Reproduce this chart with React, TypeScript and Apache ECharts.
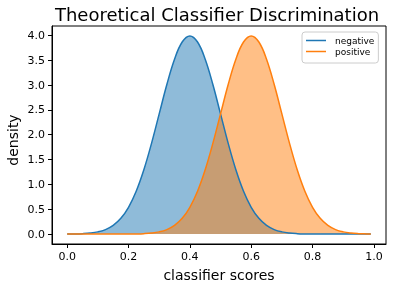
import React, { useEffect, useRef } from "react";
import * as echarts from "echarts";

const scores = [0, 0.025, 0.05, 0.075, 0.1, 0.125, 0.15, 0.175, 0.2, 0.225, 0.25, 0.275, 0.3, 0.325, 0.35, 0.375, 0.4, 0.425, 0.45, 0.475, 0.5, 0.525, 0.55, 0.575, 0.6, 0.625, 0.65, 0.675, 0.7, 0.725, 0.75, 0.775, 0.8, 0.825, 0.85, 0.875, 0.9, 0.925, 0.95, 0.975, 0.99];
const negative = [0.00134, 0.00353, 0.00873, 0.02029, 0.04432, 0.09094, 0.17528, 0.3174, 0.53991, 0.86277, 1.29518, 1.82649, 2.41971, 3.01137, 3.52065, 3.86668, 3.98942, 3.86668, 3.52065, 3.01137, 2.41971, 1.82649, 1.29518, 0.86277, 0.53991, 0.3174, 0.17528, 0.09094, 0.04432, 0.02029, 0.00873, 0.00353, 0.00134, 0.00048, 0.00016, 0.00005, 0, 0, 0, 0, 0];
const positive = [0, 0, 0, 0, 0.00001, 0.00005, 0.00016, 0.00048, 0.00134, 0.00353, 0.00873, 0.02029, 0.04432, 0.09094, 0.17528, 0.3174, 0.53991, 0.86277, 1.29518, 1.82649, 2.41971, 3.01137, 3.52065, 3.86668, 3.98942, 3.86668, 3.52065, 3.01137, 2.41971, 1.82649, 1.29518, 0.86277, 0.53991, 0.3174, 0.17528, 0.09094, 0.04432, 0.02029, 0.00873, 0.00353, 0.00199];
const xTicks = [0, 0.2, 0.4, 0.6, 0.8, 1.0];
const yTicks = [0, 0.5, 1.0, 1.5, 2.0, 2.5, 3.0, 3.5, 4.0];
const seriesNames = ["negative", "positive"];
const titleText = "Theoretical Classifier Discrimination";
const xLabel = "classifier scores";
const yLabel = "density";

const FONT = "DejaVu Sans";
const BLUE = "#1f77b4";
const ORANGE = "#ff7f0e";

export default function App() {
  const ref = useRef<HTMLDivElement>(null);
  useEffect(() => {
    if (!ref.current) return;
    const chart = echarts.init(ref.current, null, { renderer: "svg" });
    const negData = scores.map((x, i) => [x, negative[i]]);
    const posData = scores.map((x, i) => [x, positive[i]]);
    const areaSeries = (name: string, data: number[][], color: string) => ({
      type: "line",
      name,
      data,
      showSymbol: false,
      symbol: "none",
      smooth: 0.4,
      lineStyle: { width: 0, color },
      itemStyle: { color },
      areaStyle: { color, opacity: 0.5 },
      z: 1,
    });
    const lineSeries = (name: string, data: number[][], color: string) => ({
      type: "line",
      name,
      data,
      showSymbol: false,
      symbol: "none",
      smooth: 0.4,
      lineStyle: { width: 1.5, color },
      itemStyle: { color },
      z: 3,
    });
    chart.setOption({
      animation: false,
      grid: {
        left: 52,
        right: 10,
        top: 26,
        bottom: 45,
        show: true,
        borderColor: "#000",
        borderWidth: 1,
        backgroundColor: "transparent",
      },
      graphic: [
        {
          type: "text",
          x: 217,
          y: 14,
          style: { text: titleText, fontFamily: FONT, fontSize: 18, fill: "#000", align: "center", verticalAlign: "middle" },
        },
        {
          type: "text",
          x: 219,
          y: 275,
          style: { text: xLabel, fontFamily: FONT, fontSize: 14, fill: "#000", align: "center", verticalAlign: "middle" },
        },
        {
          type: "text",
          x: 13,
          y: 140,
          rotation: Math.PI / 2,
          style: { text: yLabel, fontFamily: FONT, fontSize: 14, fill: "#000", align: "center", verticalAlign: "middle" },
        },
      ],
      legend: {
        data: seriesNames,
        orient: "vertical",
        left: 302,
        top: 32,
        icon: "rect",
        itemWidth: 20,
        itemHeight: 1.5,
        itemGap: 0,
        padding: [3, 4, 6, 4],
        borderColor: "#cccccc",
        borderWidth: 1,
        borderRadius: 3,
        backgroundColor: "rgba(255,255,255,0.8)",
        textStyle: { fontFamily: FONT, fontSize: 9, color: "#000", lineHeight: 11, padding: [0, 0, 0, 4] },
      },
      xAxis: {
        type: "value",
        min: -0.0495,
        max: 1.0395,
        splitLine: { show: false },
        axisLine: { show: true, onZero: false, lineStyle: { color: "#000", width: 1 } },
        axisTick: { show: true, length: 4, customValues: xTicks, lineStyle: { color: "#000" } },
        axisLabel: {
          customValues: xTicks,
          margin: 7,
          fontFamily: FONT,
          fontSize: 11,
          color: "#000",
          formatter: (v: number) => v.toFixed(1),
        },
      },
      yAxis: {
        type: "value",
        min: -0.1995,
        max: 4.189,
        splitLine: { show: false },
        axisLine: { show: true, onZero: false, lineStyle: { color: "#000", width: 1 } },
        axisTick: { show: true, length: 4, customValues: yTicks, lineStyle: { color: "#000" } },
        axisLabel: {
          customValues: yTicks,
          margin: 7,
          fontFamily: FONT,
          fontSize: 11,
          color: "#000",
          formatter: (v: number) => v.toFixed(1),
        },
      },
      series: [
        areaSeries("negative area", negData, BLUE),
        areaSeries("positive area", posData, ORANGE),
        lineSeries(seriesNames[0], negData, BLUE),
        lineSeries(seriesNames[1], posData, ORANGE),
      ],
    });
    return () => chart.dispose();
  }, []);
  return <div ref={ref} style={{ position: "fixed", left: 0, top: 0, width: 396, height: 289 }} />;
}
